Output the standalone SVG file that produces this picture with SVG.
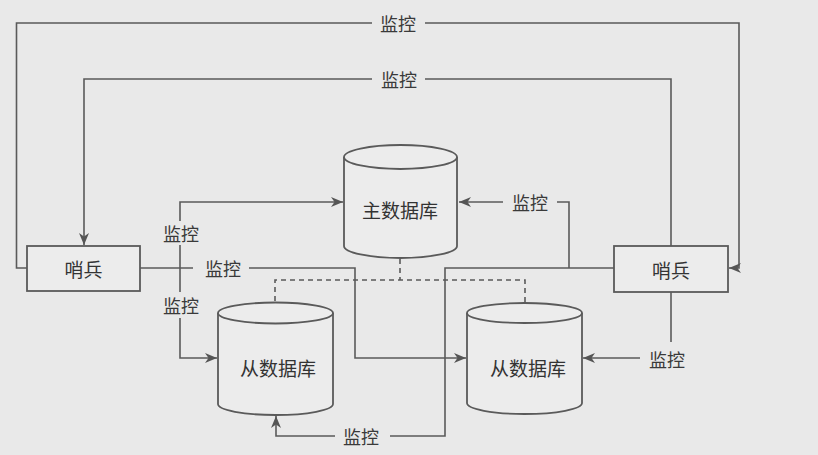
<svg xmlns="http://www.w3.org/2000/svg" width="818" height="455" viewBox="0 0 818 455">
<defs>
<marker id="arr" viewBox="0 0 12 10" refX="12" refY="5" markerWidth="12" markerHeight="10" markerUnits="userSpaceOnUse" orient="auto">
<path d="M0,0 L12,5 L0,10 L3.5,5 Z" fill="#555"/>
</marker>
</defs>
<style>
.ln{fill:none;stroke:#5a5a5a;stroke-width:1.6}
.ds{fill:none;stroke:#5a5a5a;stroke-width:1.6;stroke-dasharray:5,4}
.box{fill:#ececec;stroke:#5a5a5a;stroke-width:1.8}
.lbl{font-family:"Noto Sans CJK SC","Noto Sans",sans-serif;font-size:18px;fill:#3a3a3a;text-anchor:middle;dominant-baseline:central}
.nt{font-family:"Noto Sans CJK SC","Noto Sans",sans-serif;font-size:19px;fill:#333;text-anchor:middle;dominant-baseline:central}
</style>
<rect width="818" height="455" fill="#e9e9e9"/>
<g id="connectors">
<!-- outer loop: left sentinel -> right sentinel -->
<polyline class="ln" points="27,268 16.5,268 16.5,23 372,23"/>
<polyline class="ln" points="425,23 739,23 739,268 729,268" marker-end="url(#arr)"/>
<text class="lbl" x="398" y="23">监控</text>
<!-- inner loop: right sentinel -> left sentinel -->
<polyline class="ln" points="671,246 671,79 425,79"/>
<polyline class="ln" points="372,79 84,79 84,245" marker-end="url(#arr)"/>
<text class="lbl" x="399" y="79">监控</text>
<!-- left sentinel -> master -->
<polyline class="ln" points="180,221 180,202 343,202" marker-end="url(#arr)"/>
<text class="lbl" x="181" y="233">监控</text>
<line class="ln" x1="180" y1="245" x2="180" y2="292"/>
<!-- left sentinel -> left slave -->
<text class="lbl" x="181" y="305">监控</text>
<polyline class="ln" points="180,318 180,358 217,358" marker-end="url(#arr)"/>
<!-- left sentinel -> right slave -->
<line class="ln" x1="140" y1="268" x2="193" y2="268"/>
<text class="lbl" x="223" y="268">监控</text>
<polyline class="ln" points="249,268 355,268 355,358 466,358" marker-end="url(#arr)"/>
<!-- right sentinel -> master -->
<polyline class="ln" points="614,268 445,268 445,436 390,436"/>
<polyline class="ln" points="569,268 569,202 557,202"/>
<text class="lbl" x="530" y="202">监控</text>
<line class="ln" x1="503" y1="202" x2="459" y2="202" marker-end="url(#arr)"/>
<!-- right sentinel -> left slave -->
<text class="lbl" x="361" y="436">监控</text>
<polyline class="ln" points="335,436 276,436 276,416" marker-end="url(#arr)"/>
<!-- right sentinel -> right slave -->
<polyline class="ln" points="671,292 671,342"/>
<text class="lbl" x="667" y="359">监控</text>
<line class="ln" x1="640" y1="358" x2="583" y2="358" marker-end="url(#arr)"/>
<!-- replication (dashed) -->
<polyline class="ds" points="400,259 400,280"/>
<polyline class="ds" points="275,301 275,280 525,280 525,302"/>
</g>
<g id="sentinel-left">
<rect class="box" x="27" y="246" width="113" height="45"/>
<text class="nt" x="83.5" y="268.5">哨兵</text>
</g>
<g id="sentinel-right">
<rect class="box" x="614" y="246" width="114" height="46"/>
<text class="nt" x="671" y="269">哨兵</text>
</g>
<g id="master">
<path class="box" d="M344,157 L344,246 A56.5,12 0 0 0 457,246 L457,157"/>
<ellipse class="box" cx="400.5" cy="157" rx="56.5" ry="12"/>
<text class="nt" x="400" y="209">主数据库</text>
</g>
<g id="slave-left">
<path class="box" d="M218,313 L218,404 A57.5,11 0 0 0 333,404 L333,313"/>
<ellipse class="box" cx="275.5" cy="313" rx="57.5" ry="10.5"/>
<text class="nt" x="278" y="367">从数据库</text>
</g>
<g id="slave-right">
<path class="box" d="M467,313 L467,403 A57.5,11 0 0 0 582,403 L582,313"/>
<ellipse class="box" cx="524.5" cy="313" rx="57.5" ry="10"/>
<text class="nt" x="528" y="367">从数据库</text>
</g>
</svg>
